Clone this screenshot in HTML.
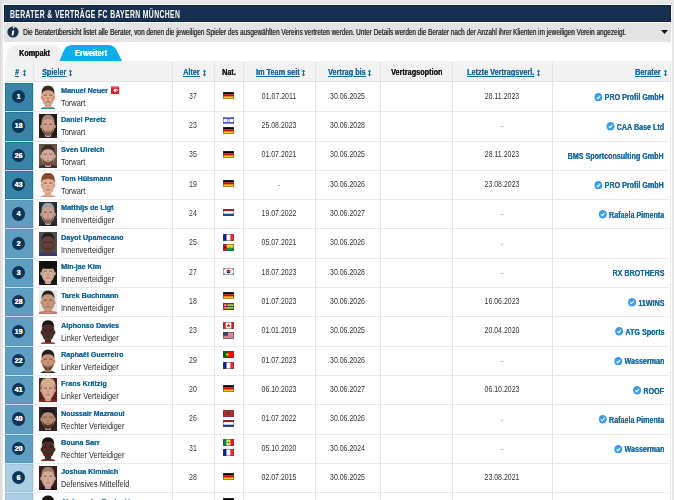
<!DOCTYPE html>
<html><head><meta charset="utf-8">
<style>
*{margin:0;padding:0;box-sizing:border-box}
svg{display:block}
html,body{width:674px;height:500px;overflow:hidden;background:#e6e6e6;font-family:"Liberation Sans",sans-serif;position:relative}
.a{position:absolute}
.t{position:absolute;white-space:nowrap;line-height:1}
.box{left:3px;top:4px;width:669px;height:500px;background:#fff}
.edge{left:0;top:0;width:1px;height:500px;background:#d9d9d9}
.hdr{left:4px;top:5px;width:667px;height:17px;background:#17304f;border:1px solid #0c2545}
.title{left:10px;top:9px;color:#fff;font-size:11px;font-weight:bold;transform-origin:0 0;transform:scaleX(0.62);letter-spacing:0.6px}
.info{left:4px;top:23px;width:667px;height:19px;background:#e3e3e3}
.infotxt{left:23px;top:26.9px;color:#333;font-size:9.8px;transform-origin:0 0;transform:scaleX(0.654);text-shadow:0.45px 0 0 currentColor}
.th{top:61px;height:21px;background:#f2f2f2;border-bottom:1px solid #e0e0e0}
.vl{width:1px;background:#e6e6e6}
.hl{height:1px;background:#e8e8e8}
.hx{font-size:8.2px;font-weight:bold;transform-origin:0 0;transform:scaleX(0.89);text-shadow:0.15px 0 0 currentColor}
.lnk{color:#1b6c9e;text-decoration:underline;text-underline-offset:1px}
.blk{color:#1a1a1a}
.arr{color:#1c6fa3}
.num{width:13.4px;height:13.4px;border-radius:50%;background:#0b3556;color:#fff;font-size:7.2px;font-weight:bold;text-align:center;line-height:13.4px;text-shadow:0.25px 0 0 #fff}
.nm{font-size:7.8px;font-weight:bold;color:#1b6c9e;transform-origin:0 0;transform:scaleX(0.917);text-shadow:0.2px 0 0 currentColor}
.ps{font-size:8.4px;color:#2a2a2a;transform-origin:0 0;transform:scaleX(0.885)}
.c{font-size:8.2px;color:#333;text-align:center;transform:scaleX(0.85);transform-origin:50% 0}
.ber{font-size:8.3px;font-weight:bold;color:#1b6c9e;text-align:right;transform-origin:100% 0;transform:scaleX(0.86);text-shadow:0.15px 0 0 currentColor}
.ber svg{display:inline-block;vertical-align:top;position:relative;top:-0.6px;margin-right:2.5px}
</style></head><body>
<div class="a edge"></div>
<div class="a box"></div>
<div class="a hdr"></div>
<div class="t title">BERATER &amp; VERTRÄGE FC BAYERN MÜNCHEN</div>
<div class="a info"></div>
<svg class="a" style="left:7px;top:26px" width="12" height="12" viewBox="0 0 12 12"><circle cx="6" cy="6" r="5.6" fill="#1a3151"/><path d="M6.6 2.4 a0.8 0.8 0 1 1 0.01 0z" fill="#fff"/><path d="M5.4 4.6 L7.3 4.6 L6.3 9.4 L4.6 9.4 Z" fill="#fff"/></svg>
<div class="t infotxt">Die Beraterübersicht listet alle Berater, von denen die jeweiligen Spieler des ausgewählten Vereins vertreten werden. Unter Details werden die Berater nach der Anzahl ihrer Klienten im jeweiligen Verein angezeigt.</div>
<svg class="a" style="left:660px;top:29px" width="9" height="6" viewBox="0 0 9 6"><path d="M1 1 L8 1 L4.5 5 Z" fill="#111"/></svg>

<svg class="a" style="left:0;top:44px" width="140" height="18" viewBox="0 0 140 18"><path d="M5.5 17 L7 9 Q9 1 18 1 L52 1 Q59 1 62 8 L65 17 Z" fill="#efefef"/><path d="M59.5 17 L63.5 7 Q66 1 72 1 L108 1 Q114 1 116.5 6 L122 17 Z" fill="#0aaeea"/></svg>
<div class="t" style="left:19.3px;top:48.8px;font-size:8.3px;font-weight:bold;color:#1a1a1a;transform-origin:0 0;transform:scaleX(0.87);text-shadow:0.3px 0 0 currentColor">Kompakt</div>
<div class="t" style="left:75px;top:48.6px;font-size:8.3px;font-weight:bold;color:#fff;transform-origin:0 0;transform:scaleX(0.9);text-shadow:0.3px 0 0 currentColor">Erweitert</div>
<div class="a th" style="left:5px;width:665px"></div>
<div class="a vl" style="left:33px;top:61px;height:439px"></div>
<div class="a vl" style="left:172px;top:61px;height:439px"></div>
<div class="a vl" style="left:214px;top:61px;height:439px"></div>
<div class="a vl" style="left:243px;top:61px;height:439px"></div>
<div class="a vl" style="left:315px;top:61px;height:439px"></div>
<div class="a vl" style="left:380px;top:61px;height:439px"></div>
<div class="a vl" style="left:452px;top:61px;height:439px"></div>
<div class="a vl" style="left:552px;top:61px;height:439px"></div>
<div class="a vl" style="left:670px;top:61px;height:439px"></div>
<div class="t hx" style="left:14.5px;top:68.9px"><span class="lnk">#</span></div>
<svg class="a" style="left:21.7px;top:68.5px" width="5" height="8" viewBox="0 0 5 8"><path d="M0.7 2.7 L2.5 0.5 L4.3 2.7 Z M0.7 5.3 L4.3 5.3 L2.5 7.5 Z" fill="#1b6c9e"/><rect x="2" y="2.4" width="1" height="3.2" fill="#1b6c9e"/></svg>
<div class="t hx" style="left:41.6px;top:68.9px"><span class="lnk">Spieler</span></div>
<svg class="a" style="left:67.7px;top:68.5px" width="5" height="8" viewBox="0 0 5 8"><path d="M0.7 2.7 L2.5 0.5 L4.3 2.7 Z M0.7 5.3 L4.3 5.3 L2.5 7.5 Z" fill="#1b6c9e"/><rect x="2" y="2.4" width="1" height="3.2" fill="#1b6c9e"/></svg>
<div class="t hx" style="left:183.2px;top:68.9px"><span class="lnk">Alter</span></div>
<svg class="a" style="left:201.7px;top:68.5px" width="5" height="8" viewBox="0 0 5 8"><path d="M0.7 2.7 L2.5 0.5 L4.3 2.7 Z M0.7 5.3 L4.3 5.3 L2.5 7.5 Z" fill="#1b6c9e"/><rect x="2" y="2.4" width="1" height="3.2" fill="#1b6c9e"/></svg>
<div class="t hx" style="left:221.9px;top:68.9px"><span class="blk">Nat.</span></div>
<div class="t hx" style="left:255.8px;top:68.9px"><span class="lnk">Im Team seit</span></div>
<svg class="a" style="left:301px;top:68.5px" width="5" height="8" viewBox="0 0 5 8"><path d="M0.7 2.7 L2.5 0.5 L4.3 2.7 Z M0.7 5.3 L4.3 5.3 L2.5 7.5 Z" fill="#1b6c9e"/><rect x="2" y="2.4" width="1" height="3.2" fill="#1b6c9e"/></svg>
<div class="t hx" style="left:327.5px;top:68.9px"><span class="lnk">Vertrag bis</span></div>
<svg class="a" style="left:366.8px;top:68.5px" width="5" height="8" viewBox="0 0 5 8"><path d="M0.7 2.7 L2.5 0.5 L4.3 2.7 Z M0.7 5.3 L4.3 5.3 L2.5 7.5 Z" fill="#1b6c9e"/><rect x="2" y="2.4" width="1" height="3.2" fill="#1b6c9e"/></svg>
<div class="t hx" style="left:390.6px;top:68.9px"><span class="blk">Vertragsoption</span></div>
<div class="t hx" style="left:466.6px;top:68.9px"><span class="lnk">Letzte Vertragsverl.</span></div>
<svg class="a" style="left:535.9px;top:68.5px" width="5" height="8" viewBox="0 0 5 8"><path d="M0.7 2.7 L2.5 0.5 L4.3 2.7 Z M0.7 5.3 L4.3 5.3 L2.5 7.5 Z" fill="#1b6c9e"/><rect x="2" y="2.4" width="1" height="3.2" fill="#1b6c9e"/></svg>
<div class="t hx" style="left:635.3px;top:68.9px"><span class="lnk">Berater</span></div>
<svg class="a" style="left:662.9px;top:68.5px" width="5" height="8" viewBox="0 0 5 8"><path d="M0.7 2.7 L2.5 0.5 L4.3 2.7 Z M0.7 5.3 L4.3 5.3 L2.5 7.5 Z" fill="#1b6c9e"/><rect x="2" y="2.4" width="1" height="3.2" fill="#1b6c9e"/></svg>
<div class="a" style="left:5px;top:83px;width:28px;height:28px;background:#3a84a7;border:1px solid #1f74a0"></div>
<div class="a hl" style="left:33px;top:111px;width:637px"></div>
<div class="a" style="left:5px;top:111px;width:28px;height:1px;background:#d4e2ea"></div>
<div class="a num" style="left:11.9px;top:89.9px">1</div>
<div class="a" style="left:39px;top:84.9px;width:18px;height:24px"><svg width="18" height="24" viewBox="0 0 18 24"><path d="M1.5 24 Q2.5 21.8 9 21.8 Q15.5 21.8 16.5 24 Z" fill="#2a9a84"/><path d="M5.8 17 L12.2 17 L12 22.5 Q9 23.2 6 22.5 Z" fill="#dea48c"/><path d="M5.8 19 Q9 21 12.2 19 L12.2 20.5 Q9 22 5.8 20.5 Z" fill="#000" opacity="0.22"/><ellipse cx="9" cy="11.8" rx="6.4" ry="9.2" fill="#dea48c"/><ellipse cx="2.7" cy="12.5" rx="1.1" ry="2" fill="#dea48c"/><ellipse cx="15.3" cy="12.5" rx="1.1" ry="2" fill="#dea48c"/><path d="M2.6 11 Q2.8 18 6 20.5 Q4 17 3.8 11 Z" fill="#000" opacity="0.12"/><path d="M15.4 11 Q15.2 18 12 20.5 Q14 17 14.2 11 Z" fill="#000" opacity="0.12"/><path d="M2.5 10.5 Q1.8 0.3999999999999999 9 0.3999999999999999 Q16.2 0.3999999999999999 15.5 10.5 Q14.8 5.2 9 5.2 Q3.2 5.2 2.5 10.5 Z" fill="#3e2a20"/><rect x="4.6" y="9.6" width="3.4" height="1.1" fill="#000" opacity="0.38"/><rect x="10" y="9.6" width="3.4" height="1.1" fill="#000" opacity="0.38"/><rect x="8.2" y="12" width="1.6" height="3" fill="#000" opacity="0.12"/><rect x="6.6" y="16.4" width="4.8" height="1" fill="#000" opacity="0.3"/></svg></div>
<div class="t nm" style="left:60.7px;top:87.1px">Manuel Neuer</div>
<svg class="a" style="left:111px;top:85.8px" width="8" height="8" viewBox="0 0 8 8"><rect width="8" height="8" fill="#d9202b"/><rect x="0" y="0" width="8" height="1.4" fill="#f08890"/><path d="M2 4.2 L4.5 2.2 L4.5 6.2 Z" fill="#fff"/><circle cx="5.2" cy="4.2" r="1.4" fill="#fff"/><circle cx="5.4" cy="4.3" r="0.6" fill="#d9202b"/></svg>
<div class="t ps" style="left:60.7px;top:99.0px">Torwart</div>
<div class="t c" style="left:172px;width:42px;top:92.8px">37</div>
<div class="a" style="left:223px;top:92.0px;width:11px;height:7px"><svg width="11" height="7" viewBox="0 0 11 7"><g><rect x="0" y="0" width="11" height="2.33" fill="#000"/><rect x="0" y="2.33" width="11" height="2.34" fill="#dd0000"/><rect x="0" y="4.67" width="11" height="2.33" fill="#ffce00"/></g><rect x="0.3" y="0.3" width="10.4" height="6.4" fill="none" stroke="#444" stroke-width="0.6" opacity="0.8"/></svg></div>
<div class="t c" style="left:243px;width:72px;top:92.8px">01.07.2011</div>
<div class="t c" style="left:315px;width:65px;top:92.8px">30.06.2025</div>
<div class="t c" style="left:452px;width:100px;top:92.8px">28.11.2023</div>
<div class="t ber" style="right:10px;top:93.4px"><svg width="9.5" height="8.5" viewBox="0 0 9.5 8.5"><ellipse cx="4.75" cy="4.25" rx="4.75" ry="4.25" fill="#3f9ce8"/><path d="M2.7 4.3 L4.2 5.7 L6.9 3" fill="none" stroke="#fff" stroke-width="1.1"/></svg>PRO Profil GmbH</div>
<div class="a" style="left:5px;top:112px;width:28px;height:29px;background:#3a84a7;border:1px solid #1f74a0"></div>
<div class="a hl" style="left:33px;top:141px;width:637px"></div>
<div class="a" style="left:5px;top:141px;width:28px;height:1px;background:#d4e2ea"></div>
<div class="a num" style="left:11.9px;top:119.2px">18</div>
<div class="a" style="left:39px;top:114.2px;width:18px;height:24px"><svg width="18" height="24" viewBox="0 0 18 24"><rect width="18" height="24" fill="#251a16"/><path d="M0 24 L0 22 Q4 20.5 9 20.5 Q14 20.5 18 22 L18 24 Z" fill="#2a2222"/><path d="M5.5 17 L12.5 17 L12 22.5 Q9 23.5 6 22.5 Z" fill="#cf9f8c"/><path d="M5.5 19 Q9 21 12.5 19 L12.5 21 Q9 22.5 5.5 21 Z" fill="#000" opacity="0.25"/><ellipse cx="9" cy="12.2" rx="6.6" ry="9.3" fill="#cf9f8c"/><ellipse cx="2.4" cy="12.5" rx="1.1" ry="2" fill="#cf9f8c"/><ellipse cx="15.6" cy="12.5" rx="1.1" ry="2" fill="#cf9f8c"/><path d="M2.6 11 Q2.8 18 6 20.5 Q4 17 3.8 11 Z" fill="#000" opacity="0.12"/><path d="M15.4 11 Q15.2 18 12 20.5 Q14 17 14.2 11 Z" fill="#000" opacity="0.12"/><path d="M3.5 14 Q4 21.5 9 21.8 Q14 21.5 14.5 14 Q13 18 9 18.3 Q5 18 3.5 14 Z" fill="#6a4a40" opacity="0.8"/><path d="M2.5 10.5 Q1.8 0.6999999999999997 9 0.6999999999999997 Q16.2 0.6999999999999997 15.5 10.5 Q14.8 5.2 9 5.2 Q3.2 5.2 2.5 10.5 Z" fill="#a88a78"/><rect x="4.6" y="9.6" width="3.4" height="1.1" fill="#000" opacity="0.38"/><rect x="10" y="9.6" width="3.4" height="1.1" fill="#000" opacity="0.38"/><rect x="8.2" y="12" width="1.6" height="3" fill="#000" opacity="0.12"/><rect x="6.6" y="16.4" width="4.8" height="1" fill="#000" opacity="0.3"/></svg></div>
<div class="t nm" style="left:60.7px;top:116.4px">Daniel Peretz</div>
<div class="t ps" style="left:60.7px;top:128.3px">Torwart</div>
<div class="t c" style="left:172px;width:42px;top:122.1px">23</div>
<div class="a" style="left:223px;top:116.5px;width:11px;height:7px"><svg width="11" height="7" viewBox="0 0 11 7"><g><rect width="11" height="7" fill="#fff"/><rect y="0.8" width="11" height="1" fill="#0038b8"/><rect y="5.2" width="11" height="1" fill="#0038b8"/><circle cx="5.5" cy="3.5" r="1.2" fill="none" stroke="#0038b8" stroke-width="0.5"/></g><rect x="0.3" y="0.3" width="10.4" height="6.4" fill="none" stroke="#444" stroke-width="0.6" opacity="0.8"/></svg></div>
<div class="a" style="left:223px;top:126.9px;width:11px;height:7px"><svg width="11" height="7" viewBox="0 0 11 7"><g><rect x="0" y="0" width="11" height="2.33" fill="#000"/><rect x="0" y="2.33" width="11" height="2.34" fill="#dd0000"/><rect x="0" y="4.67" width="11" height="2.33" fill="#ffce00"/></g><rect x="0.3" y="0.3" width="10.4" height="6.4" fill="none" stroke="#444" stroke-width="0.6" opacity="0.8"/></svg></div>
<div class="t c" style="left:243px;width:72px;top:122.1px">25.08.2023</div>
<div class="t c" style="left:315px;width:65px;top:122.1px">30.06.2028</div>
<div class="t c" style="left:452px;width:100px;top:123.4px">-</div>
<div class="t ber" style="right:10px;top:122.7px"><svg width="9.5" height="8.5" viewBox="0 0 9.5 8.5"><ellipse cx="4.75" cy="4.25" rx="4.75" ry="4.25" fill="#3f9ce8"/><path d="M2.7 4.3 L4.2 5.7 L6.9 3" fill="none" stroke="#fff" stroke-width="1.1"/></svg>CAA Base Ltd</div>
<div class="a" style="left:5px;top:142px;width:28px;height:28px;background:#3a84a7;border:1px solid #1f74a0"></div>
<div class="a hl" style="left:33px;top:170px;width:637px"></div>
<div class="a" style="left:5px;top:170px;width:28px;height:1px;background:#d4e2ea"></div>
<div class="a num" style="left:11.9px;top:148.5px">26</div>
<div class="a" style="left:39px;top:143.5px;width:18px;height:24px"><svg width="18" height="24" viewBox="0 0 18 24"><rect width="18" height="24" fill="#6e5248"/><path d="M0 24 L0 22 Q4 20.5 9 20.5 Q14 20.5 18 22 L18 24 Z" fill="#3a3030"/><path d="M5.5 17 L12.5 17 L12 22.5 Q9 23.5 6 22.5 Z" fill="#d6ac9c"/><path d="M5.5 19 Q9 21 12.5 19 L12.5 21 Q9 22.5 5.5 21 Z" fill="#000" opacity="0.25"/><ellipse cx="9" cy="12.2" rx="6.6" ry="9.3" fill="#d6ac9c"/><ellipse cx="2.4" cy="12.5" rx="1.1" ry="2" fill="#d6ac9c"/><ellipse cx="15.6" cy="12.5" rx="1.1" ry="2" fill="#d6ac9c"/><path d="M2.6 11 Q2.8 18 6 20.5 Q4 17 3.8 11 Z" fill="#000" opacity="0.12"/><path d="M15.4 11 Q15.2 18 12 20.5 Q14 17 14.2 11 Z" fill="#000" opacity="0.12"/><path d="M3.5 14 Q4 21.5 9 21.8 Q14 21.5 14.5 14 Q13 18 9 18.3 Q5 18 3.5 14 Z" fill="#4a3228" opacity="0.8"/><path d="M2.5 10.5 Q1.8 0.6999999999999997 9 0.6999999999999997 Q16.2 0.6999999999999997 15.5 10.5 Q14.8 5.2 9 5.2 Q3.2 5.2 2.5 10.5 Z" fill="#3a2a22"/><rect x="4.6" y="9.6" width="3.4" height="1.1" fill="#000" opacity="0.38"/><rect x="10" y="9.6" width="3.4" height="1.1" fill="#000" opacity="0.38"/><rect x="8.2" y="12" width="1.6" height="3" fill="#000" opacity="0.12"/><rect x="6.6" y="16.4" width="4.8" height="1" fill="#000" opacity="0.3"/></svg></div>
<div class="t nm" style="left:60.7px;top:145.7px">Sven Ulreich</div>
<div class="t ps" style="left:60.7px;top:157.6px">Torwart</div>
<div class="t c" style="left:172px;width:42px;top:151.4px">35</div>
<div class="a" style="left:223px;top:150.6px;width:11px;height:7px"><svg width="11" height="7" viewBox="0 0 11 7"><g><rect x="0" y="0" width="11" height="2.33" fill="#000"/><rect x="0" y="2.33" width="11" height="2.34" fill="#dd0000"/><rect x="0" y="4.67" width="11" height="2.33" fill="#ffce00"/></g><rect x="0.3" y="0.3" width="10.4" height="6.4" fill="none" stroke="#444" stroke-width="0.6" opacity="0.8"/></svg></div>
<div class="t c" style="left:243px;width:72px;top:151.4px">01.07.2021</div>
<div class="t c" style="left:315px;width:65px;top:151.4px">30.06.2025</div>
<div class="t c" style="left:452px;width:100px;top:151.4px">28.11.2023</div>
<div class="t ber" style="right:10px;top:152.0px">BMS Sportconsulting GmbH</div>
<div class="a" style="left:5px;top:171px;width:28px;height:28px;background:#3a84a7;border:1px solid #1f74a0"></div>
<div class="a hl" style="left:33px;top:199px;width:637px"></div>
<div class="a" style="left:5px;top:199px;width:28px;height:1px;background:#d4e2ea"></div>
<div class="a num" style="left:11.9px;top:177.9px">43</div>
<div class="a" style="left:39px;top:172.9px;width:18px;height:24px"><svg width="18" height="24" viewBox="0 0 18 24"><path d="M1.5 24 Q2.5 21.8 9 21.8 Q15.5 21.8 16.5 24 Z" fill="#d89878"/><path d="M5.8 17 L12.2 17 L12 22.5 Q9 23.2 6 22.5 Z" fill="#e6ae96"/><path d="M5.8 19 Q9 21 12.2 19 L12.2 20.5 Q9 22 5.8 20.5 Z" fill="#000" opacity="0.22"/><ellipse cx="9" cy="11.8" rx="6.4" ry="9.2" fill="#e6ae96"/><ellipse cx="2.7" cy="12.5" rx="1.1" ry="2" fill="#e6ae96"/><ellipse cx="15.3" cy="12.5" rx="1.1" ry="2" fill="#e6ae96"/><path d="M2.6 11 Q2.8 18 6 20.5 Q4 17 3.8 11 Z" fill="#000" opacity="0.12"/><path d="M15.4 11 Q15.2 18 12 20.5 Q14 17 14.2 11 Z" fill="#000" opacity="0.12"/><path d="M2.2 11 Q1.2 -0.19999999999999973 9 -0.19999999999999973 Q16.8 -0.19999999999999973 15.8 11 Q15 6 12 6.5 Q9 5 6 6.5 Q3 6 2.2 11 Z" fill="#8a4a32"/><rect x="4.6" y="9.6" width="3.4" height="1.1" fill="#000" opacity="0.38"/><rect x="10" y="9.6" width="3.4" height="1.1" fill="#000" opacity="0.38"/><rect x="8.2" y="12" width="1.6" height="3" fill="#000" opacity="0.12"/><rect x="6.6" y="16.4" width="4.8" height="1" fill="#000" opacity="0.3"/></svg></div>
<div class="t nm" style="left:60.7px;top:175.1px">Tom Hülsmann</div>
<div class="t ps" style="left:60.7px;top:187.0px">Torwart</div>
<div class="t c" style="left:172px;width:42px;top:180.8px">19</div>
<div class="a" style="left:223px;top:180.0px;width:11px;height:7px"><svg width="11" height="7" viewBox="0 0 11 7"><g><rect x="0" y="0" width="11" height="2.33" fill="#000"/><rect x="0" y="2.33" width="11" height="2.34" fill="#dd0000"/><rect x="0" y="4.67" width="11" height="2.33" fill="#ffce00"/></g><rect x="0.3" y="0.3" width="10.4" height="6.4" fill="none" stroke="#444" stroke-width="0.6" opacity="0.8"/></svg></div>
<div class="t c" style="left:243px;width:72px;top:182.1px">-</div>
<div class="t c" style="left:315px;width:65px;top:180.8px">30.06.2026</div>
<div class="t c" style="left:452px;width:100px;top:180.8px">23.08.2023</div>
<div class="t ber" style="right:10px;top:181.4px"><svg width="9.5" height="8.5" viewBox="0 0 9.5 8.5"><ellipse cx="4.75" cy="4.25" rx="4.75" ry="4.25" fill="#3f9ce8"/><path d="M2.7 4.3 L4.2 5.7 L6.9 3" fill="none" stroke="#fff" stroke-width="1.1"/></svg>PRO Profil GmbH</div>
<div class="a" style="left:5px;top:200px;width:28px;height:28px;background:#609ec1;border:1px solid #5296bd"></div>
<div class="a hl" style="left:33px;top:228px;width:637px"></div>
<div class="a" style="left:5px;top:228px;width:28px;height:1px;background:#d4e2ea"></div>
<div class="a num" style="left:11.9px;top:207.2px">4</div>
<div class="a" style="left:39px;top:202.2px;width:18px;height:24px"><svg width="18" height="24" viewBox="0 0 18 24"><rect width="18" height="24" fill="#2a2c36"/><path d="M0 24 L0 22 Q4 20.5 9 20.5 Q14 20.5 18 22 L18 24 Z" fill="#222222"/><path d="M5.5 17 L12.5 17 L12 22.5 Q9 23.5 6 22.5 Z" fill="#caa090"/><path d="M5.5 19 Q9 21 12.5 19 L12.5 21 Q9 22.5 5.5 21 Z" fill="#000" opacity="0.25"/><ellipse cx="9" cy="12.2" rx="6.6" ry="9.3" fill="#caa090"/><ellipse cx="2.4" cy="12.5" rx="1.1" ry="2" fill="#caa090"/><ellipse cx="15.6" cy="12.5" rx="1.1" ry="2" fill="#caa090"/><path d="M2.6 11 Q2.8 18 6 20.5 Q4 17 3.8 11 Z" fill="#000" opacity="0.12"/><path d="M15.4 11 Q15.2 18 12 20.5 Q14 17 14.2 11 Z" fill="#000" opacity="0.12"/><path d="M3.5 14 Q4 21.5 9 21.8 Q14 21.5 14.5 14 Q13 18 9 18.3 Q5 18 3.5 14 Z" fill="#6a5048" opacity="0.8"/><path d="M2.5 10.5 Q1.8 0.6999999999999997 9 0.6999999999999997 Q16.2 0.6999999999999997 15.5 10.5 Q14.8 5.2 9 5.2 Q3.2 5.2 2.5 10.5 Z" fill="#a0a0a0"/><rect x="4.6" y="9.6" width="3.4" height="1.1" fill="#000" opacity="0.38"/><rect x="10" y="9.6" width="3.4" height="1.1" fill="#000" opacity="0.38"/><rect x="8.2" y="12" width="1.6" height="3" fill="#000" opacity="0.12"/><rect x="6.6" y="16.4" width="4.8" height="1" fill="#000" opacity="0.3"/></svg></div>
<div class="t nm" style="left:60.7px;top:204.4px">Matthijs de Ligt</div>
<div class="t ps" style="left:60.7px;top:216.3px">Innenverteidiger</div>
<div class="t c" style="left:172px;width:42px;top:210.1px">24</div>
<div class="a" style="left:223px;top:209.3px;width:11px;height:7px"><svg width="11" height="7" viewBox="0 0 11 7"><g><rect width="11" height="2.33" fill="#ae1c28"/><rect y="2.33" width="11" height="2.34" fill="#fff"/><rect y="4.67" width="11" height="2.33" fill="#21468b"/></g><rect x="0.3" y="0.3" width="10.4" height="6.4" fill="none" stroke="#444" stroke-width="0.6" opacity="0.8"/></svg></div>
<div class="t c" style="left:243px;width:72px;top:210.1px">19.07.2022</div>
<div class="t c" style="left:315px;width:65px;top:210.1px">30.06.2027</div>
<div class="t c" style="left:452px;width:100px;top:211.4px">-</div>
<div class="t ber" style="right:10px;top:210.7px"><svg width="9.5" height="8.5" viewBox="0 0 9.5 8.5"><ellipse cx="4.75" cy="4.25" rx="4.75" ry="4.25" fill="#3f9ce8"/><path d="M2.7 4.3 L4.2 5.7 L6.9 3" fill="none" stroke="#fff" stroke-width="1.1"/></svg>Rafaela Pimenta</div>
<div class="a" style="left:5px;top:229px;width:28px;height:29px;background:#609ec1;border:1px solid #5296bd"></div>
<div class="a hl" style="left:33px;top:258px;width:637px"></div>
<div class="a" style="left:5px;top:258px;width:28px;height:1px;background:#d4e2ea"></div>
<div class="a num" style="left:11.9px;top:236.5px">2</div>
<div class="a" style="left:39px;top:231.5px;width:18px;height:24px"><svg width="18" height="24" viewBox="0 0 18 24"><rect width="18" height="24" fill="#4e4e50"/><path d="M0 24 L0 22 Q4 20.5 9 20.5 Q14 20.5 18 22 L18 24 Z" fill="#2a3a7a"/><path d="M5.5 17 L12.5 17 L12 22.5 Q9 23.5 6 22.5 Z" fill="#5e4036"/><path d="M5.5 19 Q9 21 12.5 19 L12.5 21 Q9 22.5 5.5 21 Z" fill="#000" opacity="0.25"/><ellipse cx="9" cy="12.2" rx="6.6" ry="9.3" fill="#5e4036"/><ellipse cx="2.4" cy="12.5" rx="1.1" ry="2" fill="#5e4036"/><ellipse cx="15.6" cy="12.5" rx="1.1" ry="2" fill="#5e4036"/><path d="M2.6 11 Q2.8 18 6 20.5 Q4 17 3.8 11 Z" fill="#000" opacity="0.12"/><path d="M15.4 11 Q15.2 18 12 20.5 Q14 17 14.2 11 Z" fill="#000" opacity="0.12"/><path d="M2.6 9.5 Q2.2 0.5 9 0.5 Q15.8 0.5 15.4 9.5 Q14.5 4.3 9 4.3 Q3.5 4.3 2.6 9.5 Z" fill="#262020"/><rect x="4.6" y="9.6" width="3.4" height="1.1" fill="#000" opacity="0.38"/><rect x="10" y="9.6" width="3.4" height="1.1" fill="#000" opacity="0.38"/><rect x="8.2" y="12" width="1.6" height="3" fill="#000" opacity="0.12"/><rect x="6.6" y="16.4" width="4.8" height="1" fill="#000" opacity="0.3"/></svg></div>
<div class="t nm" style="left:60.7px;top:233.7px">Dayot Upamecano</div>
<div class="t ps" style="left:60.7px;top:245.6px">Innenverteidiger</div>
<div class="t c" style="left:172px;width:42px;top:239.4px">25</div>
<div class="a" style="left:223px;top:233.8px;width:11px;height:7px"><svg width="11" height="7" viewBox="0 0 11 7"><g><rect width="3.67" height="7" fill="#002395"/><rect x="3.67" width="3.66" height="7" fill="#fff"/><rect x="7.33" width="3.67" height="7" fill="#ed2939"/></g><rect x="0.3" y="0.3" width="10.4" height="6.4" fill="none" stroke="#444" stroke-width="0.6" opacity="0.8"/></svg></div>
<div class="a" style="left:223px;top:244.2px;width:11px;height:7px"><svg width="11" height="7" viewBox="0 0 11 7"><g><rect width="11" height="3.5" fill="#fcd116"/><rect y="3.5" width="11" height="3.5" fill="#009e49"/><rect width="3.7" height="7" fill="#ce1126"/><circle cx="1.85" cy="3.5" r="0.8" fill="#000"/></g><rect x="0.3" y="0.3" width="10.4" height="6.4" fill="none" stroke="#444" stroke-width="0.6" opacity="0.8"/></svg></div>
<div class="t c" style="left:243px;width:72px;top:239.4px">05.07.2021</div>
<div class="t c" style="left:315px;width:65px;top:239.4px">30.06.2026</div>
<div class="t c" style="left:452px;width:100px;top:240.7px">-</div>
<div class="a" style="left:5px;top:259px;width:28px;height:28px;background:#609ec1;border:1px solid #5296bd"></div>
<div class="a hl" style="left:33px;top:287px;width:637px"></div>
<div class="a" style="left:5px;top:287px;width:28px;height:1px;background:#d4e2ea"></div>
<div class="a num" style="left:11.9px;top:265.8px">3</div>
<div class="a" style="left:39px;top:260.8px;width:18px;height:24px"><svg width="18" height="24" viewBox="0 0 18 24"><rect width="18" height="24" fill="#161414"/><path d="M0 24 L0 22 Q4 20.5 9 20.5 Q14 20.5 18 22 L18 24 Z" fill="#1a1a1a"/><path d="M5.5 17 L12.5 17 L12 22.5 Q9 23.5 6 22.5 Z" fill="#d8ae9a"/><path d="M5.5 19 Q9 21 12.5 19 L12.5 21 Q9 22.5 5.5 21 Z" fill="#000" opacity="0.25"/><ellipse cx="9" cy="12.2" rx="6.6" ry="9.3" fill="#d8ae9a"/><ellipse cx="2.4" cy="12.5" rx="1.1" ry="2" fill="#d8ae9a"/><ellipse cx="15.6" cy="12.5" rx="1.1" ry="2" fill="#d8ae9a"/><path d="M2.6 11 Q2.8 18 6 20.5 Q4 17 3.8 11 Z" fill="#000" opacity="0.12"/><path d="M15.4 11 Q15.2 18 12 20.5 Q14 17 14.2 11 Z" fill="#000" opacity="0.12"/><path d="M2.2 12 Q1.2 0.2999999999999998 9 0.2999999999999998 Q16.8 0.2999999999999998 15.8 12 Q15.5 8.5 14 7.5 Q9 8 4 7.5 Q2.5 8.5 2.2 12 Z" fill="#121010"/><rect x="4.6" y="9.6" width="3.4" height="1.1" fill="#000" opacity="0.38"/><rect x="10" y="9.6" width="3.4" height="1.1" fill="#000" opacity="0.38"/><rect x="8.2" y="12" width="1.6" height="3" fill="#000" opacity="0.12"/><rect x="6.6" y="16.4" width="4.8" height="1" fill="#000" opacity="0.3"/></svg></div>
<div class="t nm" style="left:60.7px;top:263.0px">Min-jae Kim</div>
<div class="t ps" style="left:60.7px;top:274.9px">Innenverteidiger</div>
<div class="t c" style="left:172px;width:42px;top:268.7px">27</div>
<div class="a" style="left:223px;top:267.9px;width:11px;height:7px"><svg width="11" height="7" viewBox="0 0 11 7"><g><rect width="11" height="7" fill="#fff"/><path d="M3.5 3.5 a2 2 0 0 1 4 0z" fill="#c60c30"/><path d="M3.5 3.5 a2 2 0 0 0 4 0z" fill="#003478"/><g stroke="#000" stroke-width="0.5"><path d="M1.2 1.2 l1.3 1"/><path d="M9.8 1.2 l-1.3 1"/><path d="M1.2 5.8 l1.3 -1"/><path d="M9.8 5.8 l-1.3 -1"/></g></g><rect x="0.3" y="0.3" width="10.4" height="6.4" fill="none" stroke="#444" stroke-width="0.6" opacity="0.8"/></svg></div>
<div class="t c" style="left:243px;width:72px;top:268.7px">18.07.2023</div>
<div class="t c" style="left:315px;width:65px;top:268.7px">30.06.2028</div>
<div class="t c" style="left:452px;width:100px;top:270.0px">-</div>
<div class="t ber" style="right:10px;top:269.3px">RX BROTHERS</div>
<div class="a" style="left:5px;top:288px;width:28px;height:28px;background:#609ec1;border:1px solid #5296bd"></div>
<div class="a hl" style="left:33px;top:316px;width:637px"></div>
<div class="a" style="left:5px;top:316px;width:28px;height:1px;background:#d4e2ea"></div>
<div class="a num" style="left:11.9px;top:295.1px">28</div>
<div class="a" style="left:39px;top:290.1px;width:18px;height:24px"><svg width="18" height="24" viewBox="0 0 18 24"><rect width="18" height="24" fill="#e2eaee"/><path d="M0 24 L0 22 Q4 20.5 9 20.5 Q14 20.5 18 22 L18 24 Z" fill="#c07868"/><path d="M5.5 17 L12.5 17 L12 22.5 Q9 23.5 6 22.5 Z" fill="#c8987c"/><path d="M5.5 19 Q9 21 12.5 19 L12.5 21 Q9 22.5 5.5 21 Z" fill="#000" opacity="0.25"/><ellipse cx="9" cy="12.2" rx="6.6" ry="9.3" fill="#c8987c"/><ellipse cx="2.4" cy="12.5" rx="1.1" ry="2" fill="#c8987c"/><ellipse cx="15.6" cy="12.5" rx="1.1" ry="2" fill="#c8987c"/><path d="M2.6 11 Q2.8 18 6 20.5 Q4 17 3.8 11 Z" fill="#000" opacity="0.12"/><path d="M15.4 11 Q15.2 18 12 20.5 Q14 17 14.2 11 Z" fill="#000" opacity="0.12"/><path d="M2.6 9.5 Q2.2 0.5 9 0.5 Q15.8 0.5 15.4 9.5 Q14.5 4.3 9 4.3 Q3.5 4.3 2.6 9.5 Z" fill="#2a2020"/><rect x="4.6" y="9.6" width="3.4" height="1.1" fill="#000" opacity="0.38"/><rect x="10" y="9.6" width="3.4" height="1.1" fill="#000" opacity="0.38"/><rect x="8.2" y="12" width="1.6" height="3" fill="#000" opacity="0.12"/><rect x="6.6" y="16.4" width="4.8" height="1" fill="#000" opacity="0.3"/></svg></div>
<div class="t nm" style="left:60.7px;top:292.3px">Tarek Buchmann</div>
<div class="t ps" style="left:60.7px;top:304.2px">Innenverteidiger</div>
<div class="t c" style="left:172px;width:42px;top:298.0px">18</div>
<div class="a" style="left:223px;top:292.4px;width:11px;height:7px"><svg width="11" height="7" viewBox="0 0 11 7"><g><rect x="0" y="0" width="11" height="2.33" fill="#000"/><rect x="0" y="2.33" width="11" height="2.34" fill="#dd0000"/><rect x="0" y="4.67" width="11" height="2.33" fill="#ffce00"/></g><rect x="0.3" y="0.3" width="10.4" height="6.4" fill="none" stroke="#444" stroke-width="0.6" opacity="0.8"/></svg></div>
<div class="a" style="left:223px;top:302.8px;width:11px;height:7px"><svg width="11" height="7" viewBox="0 0 11 7"><g><rect width="11" height="7" fill="#006a4e"/><rect y="1.4" width="11" height="1.4" fill="#ffce00"/><rect y="4.2" width="11" height="1.4" fill="#ffce00"/><rect width="4.2" height="4.2" fill="#d21034"/><circle cx="2.1" cy="2.1" r="0.9" fill="#fff"/></g><rect x="0.3" y="0.3" width="10.4" height="6.4" fill="none" stroke="#444" stroke-width="0.6" opacity="0.8"/></svg></div>
<div class="t c" style="left:243px;width:72px;top:298.0px">01.07.2023</div>
<div class="t c" style="left:315px;width:65px;top:298.0px">30.06.2026</div>
<div class="t c" style="left:452px;width:100px;top:298.0px">16.06.2023</div>
<div class="t ber" style="right:10px;top:298.6px"><svg width="9.5" height="8.5" viewBox="0 0 9.5 8.5"><ellipse cx="4.75" cy="4.25" rx="4.75" ry="4.25" fill="#3f9ce8"/><path d="M2.7 4.3 L4.2 5.7 L6.9 3" fill="none" stroke="#fff" stroke-width="1.1"/></svg>11WINS</div>
<div class="a" style="left:5px;top:317px;width:28px;height:29px;background:#609ec1;border:1px solid #5296bd"></div>
<div class="a hl" style="left:33px;top:346px;width:637px"></div>
<div class="a" style="left:5px;top:346px;width:28px;height:1px;background:#d4e2ea"></div>
<div class="a num" style="left:11.9px;top:324.5px">19</div>
<div class="a" style="left:39px;top:319.5px;width:18px;height:24px"><svg width="18" height="24" viewBox="0 0 18 24"><path d="M1.5 24 Q2.5 21.8 9 21.8 Q15.5 21.8 16.5 24 Z" fill="#b83838"/><path d="M5.8 17 L12.2 17 L12 22.5 Q9 23.2 6 22.5 Z" fill="#4a3028"/><path d="M5.8 19 Q9 21 12.2 19 L12.2 20.5 Q9 22 5.8 20.5 Z" fill="#000" opacity="0.22"/><ellipse cx="9" cy="11.8" rx="6.4" ry="9.2" fill="#4a3028"/><ellipse cx="2.7" cy="12.5" rx="1.1" ry="2" fill="#4a3028"/><ellipse cx="15.3" cy="12.5" rx="1.1" ry="2" fill="#4a3028"/><path d="M2.6 11 Q2.8 18 6 20.5 Q4 17 3.8 11 Z" fill="#000" opacity="0.12"/><path d="M15.4 11 Q15.2 18 12 20.5 Q14 17 14.2 11 Z" fill="#000" opacity="0.12"/><path d="M2.6 9.5 Q2.2 0.20000000000000018 9 0.20000000000000018 Q15.8 0.20000000000000018 15.4 9.5 Q14.5 4.3 9 4.3 Q3.5 4.3 2.6 9.5 Z" fill="#1a1210"/><rect x="4.6" y="9.6" width="3.4" height="1.1" fill="#000" opacity="0.38"/><rect x="10" y="9.6" width="3.4" height="1.1" fill="#000" opacity="0.38"/><rect x="8.2" y="12" width="1.6" height="3" fill="#000" opacity="0.12"/><rect x="6.6" y="16.4" width="4.8" height="1" fill="#000" opacity="0.3"/></svg></div>
<div class="t nm" style="left:60.7px;top:321.7px">Alphonso Davies</div>
<div class="t ps" style="left:60.7px;top:333.6px">Linker Verteidiger</div>
<div class="t c" style="left:172px;width:42px;top:327.4px">23</div>
<div class="a" style="left:223px;top:321.8px;width:11px;height:7px"><svg width="11" height="7" viewBox="0 0 11 7"><g><rect width="11" height="7" fill="#fff"/><rect width="2.75" height="7" fill="#d52b1e"/><rect x="8.25" width="2.75" height="7" fill="#d52b1e"/><path d="M5.5 1.3 L6.5 3.2 L7.2 2.9 L6.6 5 L5.5 4.5 L4.4 5 L3.8 2.9 L4.5 3.2 Z" fill="#d52b1e"/></g><rect x="0.3" y="0.3" width="10.4" height="6.4" fill="none" stroke="#444" stroke-width="0.6" opacity="0.8"/></svg></div>
<div class="a" style="left:223px;top:332.2px;width:11px;height:7px"><svg width="11" height="7" viewBox="0 0 11 7"><g><rect width="11" height="7" fill="#fff"/><rect y="0.00" width="11" height="0.54" fill="#b22234"/><rect y="1.08" width="11" height="0.54" fill="#b22234"/><rect y="2.15" width="11" height="0.54" fill="#b22234"/><rect y="3.23" width="11" height="0.54" fill="#b22234"/><rect y="4.31" width="11" height="0.54" fill="#b22234"/><rect y="5.38" width="11" height="0.54" fill="#b22234"/><rect y="6.46" width="11" height="0.54" fill="#b22234"/><rect width="5" height="3.8" fill="#3c3b6e"/></g><rect x="0.3" y="0.3" width="10.4" height="6.4" fill="none" stroke="#444" stroke-width="0.6" opacity="0.8"/></svg></div>
<div class="t c" style="left:243px;width:72px;top:327.4px">01.01.2019</div>
<div class="t c" style="left:315px;width:65px;top:327.4px">30.06.2025</div>
<div class="t c" style="left:452px;width:100px;top:327.4px">20.04.2020</div>
<div class="t ber" style="right:10px;top:328.0px"><svg width="9.5" height="8.5" viewBox="0 0 9.5 8.5"><ellipse cx="4.75" cy="4.25" rx="4.75" ry="4.25" fill="#3f9ce8"/><path d="M2.7 4.3 L4.2 5.7 L6.9 3" fill="none" stroke="#fff" stroke-width="1.1"/></svg>ATG Sports</div>
<div class="a" style="left:5px;top:347px;width:28px;height:28px;background:#609ec1;border:1px solid #5296bd"></div>
<div class="a hl" style="left:33px;top:375px;width:637px"></div>
<div class="a" style="left:5px;top:375px;width:28px;height:1px;background:#d4e2ea"></div>
<div class="a num" style="left:11.9px;top:353.8px">22</div>
<div class="a" style="left:39px;top:348.8px;width:18px;height:24px"><svg width="18" height="24" viewBox="0 0 18 24"><path d="M1.5 24 Q2.5 21.8 9 21.8 Q15.5 21.8 16.5 24 Z" fill="#333333"/><path d="M5.8 17 L12.2 17 L12 22.5 Q9 23.2 6 22.5 Z" fill="#cc9478"/><path d="M5.8 19 Q9 21 12.2 19 L12.2 20.5 Q9 22 5.8 20.5 Z" fill="#000" opacity="0.22"/><ellipse cx="9" cy="11.8" rx="6.4" ry="9.2" fill="#cc9478"/><ellipse cx="2.7" cy="12.5" rx="1.1" ry="2" fill="#cc9478"/><ellipse cx="15.3" cy="12.5" rx="1.1" ry="2" fill="#cc9478"/><path d="M2.6 11 Q2.8 18 6 20.5 Q4 17 3.8 11 Z" fill="#000" opacity="0.12"/><path d="M15.4 11 Q15.2 18 12 20.5 Q14 17 14.2 11 Z" fill="#000" opacity="0.12"/><path d="M3.5 14 Q4 21.5 9 21.8 Q14 21.5 14.5 14 Q13 18 9 18.3 Q5 18 3.5 14 Z" fill="#5a3a2a" opacity="0.8"/><path d="M2.5 10.5 Q1.8 0.3999999999999999 9 0.3999999999999999 Q16.2 0.3999999999999999 15.5 10.5 Q14.8 5.2 9 5.2 Q3.2 5.2 2.5 10.5 Z" fill="#2a1e18"/><rect x="4.6" y="9.6" width="3.4" height="1.1" fill="#000" opacity="0.38"/><rect x="10" y="9.6" width="3.4" height="1.1" fill="#000" opacity="0.38"/><rect x="8.2" y="12" width="1.6" height="3" fill="#000" opacity="0.12"/><rect x="6.6" y="16.4" width="4.8" height="1" fill="#000" opacity="0.3"/></svg></div>
<div class="t nm" style="left:60.7px;top:351.0px">Raphaël Guerreiro</div>
<div class="t ps" style="left:60.7px;top:362.9px">Linker Verteidiger</div>
<div class="t c" style="left:172px;width:42px;top:356.7px">29</div>
<div class="a" style="left:223px;top:351.1px;width:11px;height:7px"><svg width="11" height="7" viewBox="0 0 11 7"><g><rect width="11" height="7" fill="#ff0000"/><rect width="4.4" height="7" fill="#006600"/><circle cx="4.4" cy="3.5" r="1.3" fill="#ffcc00"/></g><rect x="0.3" y="0.3" width="10.4" height="6.4" fill="none" stroke="#444" stroke-width="0.6" opacity="0.8"/></svg></div>
<div class="a" style="left:223px;top:361.5px;width:11px;height:7px"><svg width="11" height="7" viewBox="0 0 11 7"><g><rect width="3.67" height="7" fill="#002395"/><rect x="3.67" width="3.66" height="7" fill="#fff"/><rect x="7.33" width="3.67" height="7" fill="#ed2939"/></g><rect x="0.3" y="0.3" width="10.4" height="6.4" fill="none" stroke="#444" stroke-width="0.6" opacity="0.8"/></svg></div>
<div class="t c" style="left:243px;width:72px;top:356.7px">01.07.2023</div>
<div class="t c" style="left:315px;width:65px;top:356.7px">30.06.2026</div>
<div class="t c" style="left:452px;width:100px;top:358.0px">-</div>
<div class="t ber" style="right:10px;top:357.3px"><svg width="9.5" height="8.5" viewBox="0 0 9.5 8.5"><ellipse cx="4.75" cy="4.25" rx="4.75" ry="4.25" fill="#3f9ce8"/><path d="M2.7 4.3 L4.2 5.7 L6.9 3" fill="none" stroke="#fff" stroke-width="1.1"/></svg>Wasserman</div>
<div class="a" style="left:5px;top:376px;width:28px;height:28px;background:#609ec1;border:1px solid #5296bd"></div>
<div class="a hl" style="left:33px;top:404px;width:637px"></div>
<div class="a" style="left:5px;top:404px;width:28px;height:1px;background:#d4e2ea"></div>
<div class="a num" style="left:11.9px;top:383.1px">41</div>
<div class="a" style="left:39px;top:378.1px;width:18px;height:24px"><svg width="18" height="24" viewBox="0 0 18 24"><rect width="18" height="24" fill="#5a1e1e"/><path d="M0 24 L0 22 Q4 20.5 9 20.5 Q14 20.5 18 22 L18 24 Z" fill="#8a2020"/><path d="M5.5 17 L12.5 17 L12 22.5 Q9 23.5 6 22.5 Z" fill="#dcaa92"/><path d="M5.5 19 Q9 21 12.5 19 L12.5 21 Q9 22.5 5.5 21 Z" fill="#000" opacity="0.25"/><ellipse cx="9" cy="12.2" rx="6.6" ry="9.3" fill="#dcaa92"/><ellipse cx="2.4" cy="12.5" rx="1.1" ry="2" fill="#dcaa92"/><ellipse cx="15.6" cy="12.5" rx="1.1" ry="2" fill="#dcaa92"/><path d="M2.6 11 Q2.8 18 6 20.5 Q4 17 3.8 11 Z" fill="#000" opacity="0.12"/><path d="M15.4 11 Q15.2 18 12 20.5 Q14 17 14.2 11 Z" fill="#000" opacity="0.12"/><path d="M1.6 11.5 Q0.2 0.0 9 0.0 Q17.8 0.0 16.4 11.5 Q15.8 7 13 7 Q9 6 5 7 Q2.2 7 1.6 11.5 Z" fill="#d0b088"/><rect x="4.6" y="9.6" width="3.4" height="1.1" fill="#000" opacity="0.38"/><rect x="10" y="9.6" width="3.4" height="1.1" fill="#000" opacity="0.38"/><rect x="8.2" y="12" width="1.6" height="3" fill="#000" opacity="0.12"/><rect x="6.6" y="16.4" width="4.8" height="1" fill="#000" opacity="0.3"/></svg></div>
<div class="t nm" style="left:60.7px;top:380.3px">Frans Krätzig</div>
<div class="t ps" style="left:60.7px;top:392.2px">Linker Verteidiger</div>
<div class="t c" style="left:172px;width:42px;top:386.0px">20</div>
<div class="a" style="left:223px;top:385.2px;width:11px;height:7px"><svg width="11" height="7" viewBox="0 0 11 7"><g><rect x="0" y="0" width="11" height="2.33" fill="#000"/><rect x="0" y="2.33" width="11" height="2.34" fill="#dd0000"/><rect x="0" y="4.67" width="11" height="2.33" fill="#ffce00"/></g><rect x="0.3" y="0.3" width="10.4" height="6.4" fill="none" stroke="#444" stroke-width="0.6" opacity="0.8"/></svg></div>
<div class="t c" style="left:243px;width:72px;top:386.0px">06.10.2023</div>
<div class="t c" style="left:315px;width:65px;top:386.0px">30.06.2027</div>
<div class="t c" style="left:452px;width:100px;top:386.0px">06.10.2023</div>
<div class="t ber" style="right:10px;top:386.6px"><svg width="9.5" height="8.5" viewBox="0 0 9.5 8.5"><ellipse cx="4.75" cy="4.25" rx="4.75" ry="4.25" fill="#3f9ce8"/><path d="M2.7 4.3 L4.2 5.7 L6.9 3" fill="none" stroke="#fff" stroke-width="1.1"/></svg>ROOF</div>
<div class="a" style="left:5px;top:405px;width:28px;height:29px;background:#609ec1;border:1px solid #5296bd"></div>
<div class="a hl" style="left:33px;top:434px;width:637px"></div>
<div class="a" style="left:5px;top:434px;width:28px;height:1px;background:#d4e2ea"></div>
<div class="a num" style="left:11.9px;top:412.4px">40</div>
<div class="a" style="left:39px;top:407.4px;width:18px;height:24px"><svg width="18" height="24" viewBox="0 0 18 24"><rect width="18" height="24" fill="#2a2424"/><path d="M0 24 L0 22 Q4 20.5 9 20.5 Q14 20.5 18 22 L18 24 Z" fill="#2a2a2a"/><path d="M5.5 17 L12.5 17 L12 22.5 Q9 23.5 6 22.5 Z" fill="#bc8c72"/><path d="M5.5 19 Q9 21 12.5 19 L12.5 21 Q9 22.5 5.5 21 Z" fill="#000" opacity="0.25"/><ellipse cx="9" cy="12.2" rx="6.6" ry="9.3" fill="#bc8c72"/><ellipse cx="2.4" cy="12.5" rx="1.1" ry="2" fill="#bc8c72"/><ellipse cx="15.6" cy="12.5" rx="1.1" ry="2" fill="#bc8c72"/><path d="M2.6 11 Q2.8 18 6 20.5 Q4 17 3.8 11 Z" fill="#000" opacity="0.12"/><path d="M15.4 11 Q15.2 18 12 20.5 Q14 17 14.2 11 Z" fill="#000" opacity="0.12"/><path d="M3.5 14 Q4 21.5 9 21.8 Q14 21.5 14.5 14 Q13 18 9 18.3 Q5 18 3.5 14 Z" fill="#2a1c18" opacity="0.8"/><path d="M2.5 10.5 Q1.8 0.6999999999999997 9 0.6999999999999997 Q16.2 0.6999999999999997 15.5 10.5 Q14.8 5.2 9 5.2 Q3.2 5.2 2.5 10.5 Z" fill="#201818"/><rect x="4.6" y="9.6" width="3.4" height="1.1" fill="#000" opacity="0.38"/><rect x="10" y="9.6" width="3.4" height="1.1" fill="#000" opacity="0.38"/><rect x="8.2" y="12" width="1.6" height="3" fill="#000" opacity="0.12"/><rect x="6.6" y="16.4" width="4.8" height="1" fill="#000" opacity="0.3"/></svg></div>
<div class="t nm" style="left:60.7px;top:409.6px">Noussair Mazraoui</div>
<div class="t ps" style="left:60.7px;top:421.5px">Rechter Verteidiger</div>
<div class="t c" style="left:172px;width:42px;top:415.3px">26</div>
<div class="a" style="left:223px;top:409.7px;width:11px;height:7px"><svg width="11" height="7" viewBox="0 0 11 7"><g><rect width="11" height="7" fill="#c1272d"/><path d="M5.5 1.8 L6.1 4.8 L3.9 3 L7.1 3 L4.9 4.8 Z" fill="none" stroke="#006233" stroke-width="0.5"/></g><rect x="0.3" y="0.3" width="10.4" height="6.4" fill="none" stroke="#444" stroke-width="0.6" opacity="0.8"/></svg></div>
<div class="a" style="left:223px;top:420.1px;width:11px;height:7px"><svg width="11" height="7" viewBox="0 0 11 7"><g><rect width="11" height="2.33" fill="#ae1c28"/><rect y="2.33" width="11" height="2.34" fill="#fff"/><rect y="4.67" width="11" height="2.33" fill="#21468b"/></g><rect x="0.3" y="0.3" width="10.4" height="6.4" fill="none" stroke="#444" stroke-width="0.6" opacity="0.8"/></svg></div>
<div class="t c" style="left:243px;width:72px;top:415.3px">01.07.2022</div>
<div class="t c" style="left:315px;width:65px;top:415.3px">30.06.2026</div>
<div class="t c" style="left:452px;width:100px;top:416.6px">-</div>
<div class="t ber" style="right:10px;top:415.9px"><svg width="9.5" height="8.5" viewBox="0 0 9.5 8.5"><ellipse cx="4.75" cy="4.25" rx="4.75" ry="4.25" fill="#3f9ce8"/><path d="M2.7 4.3 L4.2 5.7 L6.9 3" fill="none" stroke="#fff" stroke-width="1.1"/></svg>Rafaela Pimenta</div>
<div class="a" style="left:5px;top:435px;width:28px;height:28px;background:#609ec1;border:1px solid #5296bd"></div>
<div class="a hl" style="left:33px;top:463px;width:637px"></div>
<div class="a" style="left:5px;top:463px;width:28px;height:1px;background:#d4e2ea"></div>
<div class="a num" style="left:11.9px;top:441.7px">20</div>
<div class="a" style="left:39px;top:436.7px;width:18px;height:24px"><svg width="18" height="24" viewBox="0 0 18 24"><path d="M1.5 24 Q2.5 21.8 9 21.8 Q15.5 21.8 16.5 24 Z" fill="#8a2a2a"/><path d="M5.8 17 L12.2 17 L12 22.5 Q9 23.2 6 22.5 Z" fill="#4c2c24"/><path d="M5.8 19 Q9 21 12.2 19 L12.2 20.5 Q9 22 5.8 20.5 Z" fill="#000" opacity="0.22"/><ellipse cx="9" cy="11.8" rx="6.4" ry="9.2" fill="#4c2c24"/><ellipse cx="2.7" cy="12.5" rx="1.1" ry="2" fill="#4c2c24"/><ellipse cx="15.3" cy="12.5" rx="1.1" ry="2" fill="#4c2c24"/><path d="M2.6 11 Q2.8 18 6 20.5 Q4 17 3.8 11 Z" fill="#000" opacity="0.12"/><path d="M15.4 11 Q15.2 18 12 20.5 Q14 17 14.2 11 Z" fill="#000" opacity="0.12"/><path d="M2.6 9.5 Q2.2 0.20000000000000018 9 0.20000000000000018 Q15.8 0.20000000000000018 15.4 9.5 Q14.5 4.3 9 4.3 Q3.5 4.3 2.6 9.5 Z" fill="#1a1010"/><rect x="4.6" y="9.6" width="3.4" height="1.1" fill="#000" opacity="0.38"/><rect x="10" y="9.6" width="3.4" height="1.1" fill="#000" opacity="0.38"/><rect x="8.2" y="12" width="1.6" height="3" fill="#000" opacity="0.12"/><rect x="6.6" y="16.4" width="4.8" height="1" fill="#000" opacity="0.3"/></svg></div>
<div class="t nm" style="left:60.7px;top:438.9px">Bouna Sarr</div>
<div class="t ps" style="left:60.7px;top:450.8px">Rechter Verteidiger</div>
<div class="t c" style="left:172px;width:42px;top:444.6px">31</div>
<div class="a" style="left:223px;top:439.0px;width:11px;height:7px"><svg width="11" height="7" viewBox="0 0 11 7"><g><rect width="3.67" height="7" fill="#00853f"/><rect x="3.67" width="3.66" height="7" fill="#fdef42"/><rect x="7.33" width="3.67" height="7" fill="#e31b23"/><circle cx="5.5" cy="3.5" r="0.9" fill="#00853f"/></g><rect x="0.3" y="0.3" width="10.4" height="6.4" fill="none" stroke="#444" stroke-width="0.6" opacity="0.8"/></svg></div>
<div class="a" style="left:223px;top:449.4px;width:11px;height:7px"><svg width="11" height="7" viewBox="0 0 11 7"><g><rect width="3.67" height="7" fill="#002395"/><rect x="3.67" width="3.66" height="7" fill="#fff"/><rect x="7.33" width="3.67" height="7" fill="#ed2939"/></g><rect x="0.3" y="0.3" width="10.4" height="6.4" fill="none" stroke="#444" stroke-width="0.6" opacity="0.8"/></svg></div>
<div class="t c" style="left:243px;width:72px;top:444.6px">05.10.2020</div>
<div class="t c" style="left:315px;width:65px;top:444.6px">30.06.2024</div>
<div class="t c" style="left:452px;width:100px;top:445.9px">-</div>
<div class="t ber" style="right:10px;top:445.2px"><svg width="9.5" height="8.5" viewBox="0 0 9.5 8.5"><ellipse cx="4.75" cy="4.25" rx="4.75" ry="4.25" fill="#3f9ce8"/><path d="M2.7 4.3 L4.2 5.7 L6.9 3" fill="none" stroke="#fff" stroke-width="1.1"/></svg>Wasserman</div>
<div class="a" style="left:5px;top:464px;width:28px;height:28px;background:#abcee2;border:1px solid #9cc4dc"></div>
<div class="a hl" style="left:33px;top:492px;width:637px"></div>
<div class="a" style="left:5px;top:492px;width:28px;height:1px;background:#d4e2ea"></div>
<div class="a num" style="left:11.9px;top:471.1px">6</div>
<div class="a" style="left:39px;top:466.1px;width:18px;height:24px"><svg width="18" height="24" viewBox="0 0 18 24"><rect width="18" height="24" fill="#3e1a1a"/><path d="M0 24 L0 22 Q4 20.5 9 20.5 Q14 20.5 18 22 L18 24 Z" fill="#1a1a1a"/><path d="M5.5 17 L12.5 17 L12 22.5 Q9 23.5 6 22.5 Z" fill="#d6aa98"/><path d="M5.5 19 Q9 21 12.5 19 L12.5 21 Q9 22.5 5.5 21 Z" fill="#000" opacity="0.25"/><ellipse cx="9" cy="12.2" rx="6.6" ry="9.3" fill="#d6aa98"/><ellipse cx="2.4" cy="12.5" rx="1.1" ry="2" fill="#d6aa98"/><ellipse cx="15.6" cy="12.5" rx="1.1" ry="2" fill="#d6aa98"/><path d="M2.6 11 Q2.8 18 6 20.5 Q4 17 3.8 11 Z" fill="#000" opacity="0.12"/><path d="M15.4 11 Q15.2 18 12 20.5 Q14 17 14.2 11 Z" fill="#000" opacity="0.12"/><path d="M2.5 10.5 Q1.8 0.6999999999999997 9 0.6999999999999997 Q16.2 0.6999999999999997 15.5 10.5 Q14.8 5.2 9 5.2 Q3.2 5.2 2.5 10.5 Z" fill="#9a8070"/><rect x="4.6" y="9.6" width="3.4" height="1.1" fill="#000" opacity="0.38"/><rect x="10" y="9.6" width="3.4" height="1.1" fill="#000" opacity="0.38"/><rect x="8.2" y="12" width="1.6" height="3" fill="#000" opacity="0.12"/><rect x="6.6" y="16.4" width="4.8" height="1" fill="#000" opacity="0.3"/></svg></div>
<div class="t nm" style="left:60.7px;top:468.3px">Joshua Kimmich</div>
<div class="t ps" style="left:60.7px;top:480.2px">Defensives Mittelfeld</div>
<div class="t c" style="left:172px;width:42px;top:474.0px">28</div>
<div class="a" style="left:223px;top:473.2px;width:11px;height:7px"><svg width="11" height="7" viewBox="0 0 11 7"><g><rect x="0" y="0" width="11" height="2.33" fill="#000"/><rect x="0" y="2.33" width="11" height="2.34" fill="#dd0000"/><rect x="0" y="4.67" width="11" height="2.33" fill="#ffce00"/></g><rect x="0.3" y="0.3" width="10.4" height="6.4" fill="none" stroke="#444" stroke-width="0.6" opacity="0.8"/></svg></div>
<div class="t c" style="left:243px;width:72px;top:474.0px">02.07.2015</div>
<div class="t c" style="left:315px;width:65px;top:474.0px">30.06.2025</div>
<div class="t c" style="left:452px;width:100px;top:474.0px">23.08.2021</div>
<div class="a" style="left:5px;top:493px;width:28px;height:29px;background:#abcee2;border:1px solid #9cc4dc"></div>
<div class="a hl" style="left:33px;top:522px;width:637px"></div>
<div class="a" style="left:5px;top:522px;width:28px;height:1px;background:#d4e2ea"></div>
<div class="a num" style="left:11.9px;top:500.4px">45</div>
<div class="a" style="left:39px;top:495.4px;width:18px;height:24px"><svg width="18" height="24" viewBox="0 0 18 24"><path d="M1.5 24 Q2.5 21.8 9 21.8 Q15.5 21.8 16.5 24 Z" fill="#222"/><path d="M5.8 17 L12.2 17 L12 22.5 Q9 23.2 6 22.5 Z" fill="#c8a088"/><path d="M5.8 19 Q9 21 12.2 19 L12.2 20.5 Q9 22 5.8 20.5 Z" fill="#000" opacity="0.22"/><ellipse cx="9" cy="11.8" rx="6.4" ry="9.2" fill="#c8a088"/><ellipse cx="2.7" cy="12.5" rx="1.1" ry="2" fill="#c8a088"/><ellipse cx="15.3" cy="12.5" rx="1.1" ry="2" fill="#c8a088"/><path d="M2.6 11 Q2.8 18 6 20.5 Q4 17 3.8 11 Z" fill="#000" opacity="0.12"/><path d="M15.4 11 Q15.2 18 12 20.5 Q14 17 14.2 11 Z" fill="#000" opacity="0.12"/><path d="M2.5 10.5 Q1.8 0.3999999999999999 9 0.3999999999999999 Q16.2 0.3999999999999999 15.5 10.5 Q14.8 5.2 9 5.2 Q3.2 5.2 2.5 10.5 Z" fill="#1a1410"/><rect x="4.6" y="9.6" width="3.4" height="1.1" fill="#000" opacity="0.38"/><rect x="10" y="9.6" width="3.4" height="1.1" fill="#000" opacity="0.38"/><rect x="8.2" y="12" width="1.6" height="3" fill="#000" opacity="0.12"/><rect x="6.6" y="16.4" width="4.8" height="1" fill="#000" opacity="0.3"/></svg></div>
<div class="t nm" style="left:60.7px;top:497.6px">Aleksandar Pavlović</div>
<div class="t ps" style="left:60.7px;top:509.5px">Defensives Mittelfeld</div>
<div class="t c" style="left:172px;width:42px;top:503.3px">19</div>
<div class="a" style="left:223px;top:497.7px;width:11px;height:7px"><svg width="11" height="7" viewBox="0 0 11 7"><g><rect x="0" y="0" width="11" height="2.33" fill="#000"/><rect x="0" y="2.33" width="11" height="2.34" fill="#dd0000"/><rect x="0" y="4.67" width="11" height="2.33" fill="#ffce00"/></g><rect x="0.3" y="0.3" width="10.4" height="6.4" fill="none" stroke="#444" stroke-width="0.6" opacity="0.8"/></svg></div>
<div class="a" style="left:223px;top:508.1px;width:11px;height:7px"><svg width="11" height="7" viewBox="0 0 11 7"><g><rect width="11" height="2.33" fill="#c6363c"/><rect y="2.33" width="11" height="2.34" fill="#0c4076"/><rect y="4.67" width="11" height="2.33" fill="#fff"/></g><rect x="0.3" y="0.3" width="10.4" height="6.4" fill="none" stroke="#444" stroke-width="0.6" opacity="0.8"/></svg></div>
<div class="t c" style="left:243px;width:72px;top:504.6px">-</div>
<div class="t c" style="left:315px;width:65px;top:503.3px">30.06.2028</div>
<div class="t c" style="left:452px;width:100px;top:504.6px">-</div>
</body></html>
